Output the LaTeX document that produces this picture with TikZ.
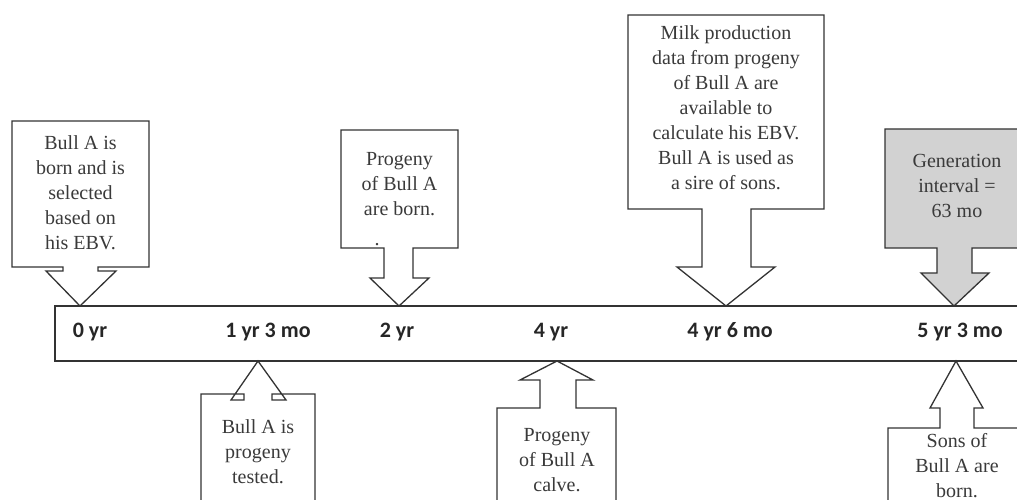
\documentclass[tikz,border=0pt]{standalone}
\usepackage{fontspec}
\setmainfont{Liberation Serif}
\newfontfamily\serfont{Liberation Serif}
\newfontfamily\labfont{Carlito}
\definecolor{linec}{HTML}{333333}
\definecolor{txtc}{HTML}{3A3A3A}
\definecolor{boxgray}{HTML}{D2D2D2}
\tikzset{
  callout/.style={draw=linec, line width=1.3pt, fill=white, line join=miter},
  graycallout/.style={callout, fill=boxgray},
  bar/.style={draw=linec, line width=1.3pt},
  txt/.style={font=\serfont\fontsize{20}{25}\selectfont, text=txtc, align=center, anchor=north, inner sep=0pt},
  lab/.style={font=\labfont\bfseries\fontsize{22}{26}\selectfont, text=black!85, anchor=base, inner sep=0pt}
}
\begin{document}
\begin{tikzpicture}[x=1pt, y=-1pt]
\useasboundingbox (0,0) rectangle (1017,500);
\clip (0,0) rectangle (1017,500);
\fill[white] (0,0) rectangle (1017,500);
% timeline bar
\draw[bar] (1030,306) -- (55,306) -- (55,361) -- (1030,361);
% callout 1 (0 yr)
\draw[callout] (12,121) -- (149,121) -- (149,267) -- (98,267) -- (98,271) -- (116,271) -- (80,306) -- (46,271) -- (63,271) -- (63,267) -- (12,267) -- cycle;
\node[txt] (t1) at (80.5,135) {Bull A is\\born and is\\selected\\based on\\his EBV.};
% callout 2 (1 yr 3 mo)
\draw[callout] (201,510) -- (201,394) -- (244,394) -- (244,400) -- (231,400) -- (258,361) -- (286,400) -- (272,400) -- (272,394) -- (315,394) -- (315,510);
\node[txt] (t2) at (258,419) {Bull A is\\progeny\\tested.};
% callout 3 (2 yr)
\draw[callout] (341,130) -- (458,130) -- (458,248) -- (413,248) -- (413,278) -- (429,278) -- (399,306) -- (370,278) -- (384,278) -- (384,248) -- (341,248) -- cycle;
\node[txt] (t3) at (399.5,152) {Progeny\\of Bull A\\are born.};
\node[txt, anchor=base] (t3dot) at (377,245) {.};
% callout 4 (4 yr)
\draw[callout] (497,510) -- (497,408) -- (540,408) -- (540,380) -- (520,380) -- (557,361) -- (593,380) -- (576,380) -- (576,408) -- (616,408) -- (616,510);
\node[txt] (t4) at (557,428) {Progeny\\of Bull A\\calve.};
% callout 5 (4 yr 6 mo)
\draw[callout] (628,15) -- (824,15) -- (824,209) -- (751,209) -- (751,267) -- (775,267) -- (726,306) -- (677,267) -- (702,267) -- (702,209) -- (628,209) -- cycle;
\node[txt] (t5) at (726,25) {Milk production\\data from progeny\\of Bull A are\\available to\\calculate his EBV.\\Bull A is used as\\a sire of sons.};
% callout 6 (5 yr 3 mo, gray)
\draw[graycallout] (885,129) -- (1030,129) -- (1030,248) -- (972,248) -- (972,273) -- (989,273) -- (954,306) -- (921,273) -- (937,273) -- (937,248) -- (885,248) -- cycle;
\node[txt] (t6) at (957,154) {Generation\\interval =\\63 mo};
% callout 7 (5 yr 3 mo, below)
\draw[callout] (888,510) -- (888,428) -- (940,428) -- (940,408) -- (930,408) -- (956,361) -- (983,408) -- (974,408) -- (974,428) -- (1030,428);
\node[txt] (t7) at (957,433) {Sons of\\Bull A are\\born.};
% bar labels
\node[lab] (l0) at (90,337) {0 yr};
\node[lab] (l1) at (268,337) {1 yr 3 mo};
\node[lab] (l2) at (397,337) {2 yr};
\node[lab] (l3) at (551,337) {4 yr};
\node[lab] (l4) at (730,337) {4 yr 6 mo};
\node[lab] (l5) at (960,337) {5 yr 3 mo};
\end{tikzpicture}
\end{document}
